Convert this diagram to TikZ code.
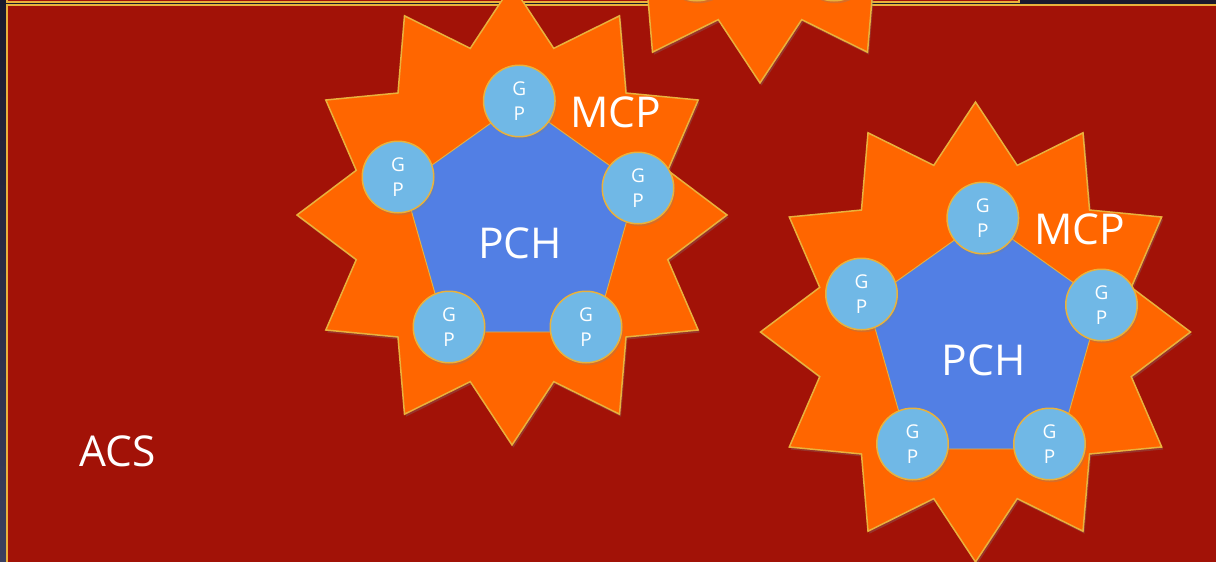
\documentclass[tikz,border=0pt]{standalone}
\usepackage{fontspec}
\setmainfont{Open Sans}
\usetikzlibrary{shadows}

\definecolor{bgdark}{HTML}{1B1A2E}
\definecolor{bgdarklow}{HTML}{3B4060}
\definecolor{acsred}{HTML}{A21207}
\definecolor{goldline}{HTML}{E9B23C}
\definecolor{starorange}{HTML}{FF6600}
\definecolor{pchblue}{HTML}{527FE4}
\definecolor{gpblue}{HTML}{70B8E6}

\newcommand\bigtextfont{\fontsize{42.5}{50}\selectfont}
\newcommand\gptextfont{\fontsize{19}{24.4}\selectfont}

\tikzset{
  acsbox/.style={fill=acsred, draw=goldline, line width=1.8pt},
  softshadow/.style={drop shadow={opacity=0.3, shadow xshift=1.5pt, shadow yshift=-2.5pt}},
  starshape/.style={fill=starorange, draw=goldline, line width=1.5pt, line join=miter, softshadow},
  pentshape/.style={fill=pchblue, draw=goldline, line width=0.9pt, line join=miter},
  gpnode/.style={circle, fill=gpblue, draw=goldline, line width=1.5pt,
    minimum size=71.5pt, inner sep=0pt, text=white, font=\gptextfont,
    align=center, softshadow},
  biglabel/.style={text=white, font=\bigtextfont, inner sep=0pt},
}

% switch for writing the texts of a cluster
\newif\ifclustertexts

% One MCP cluster: a 12-point star holding a PCH pentagon with five GP nodes.
% #1,#2: centre of the star; #3: prefix for node names.
\newcommand\mcpcluster[3]{%
  \begin{scope}[shift={(#1,#2)}]
    \draw[starshape, xscale=0.9348] (-90:230)
      \foreach \k [evaluate=\k as \r using {ifthenelse(mod(\k,2)==0,230,172.5)}] in {1,...,23}
        { -- ({-90+\k*15}:\r) } -- cycle;
    \draw[pentshape] (8.5,-113) -- (125,-30) -- (83,117) -- (-66,117) -- (-108,-30) -- cycle;
    \ifclustertexts
      \node[biglabel] (#3-pch) at (8,28) {PCH};
      \node[biglabel] (#3-mcp) at (104,-103) {MCP};
      \def\gptext{G\\P}%
    \else
      \def\gptext{}%
    \fi
    \node[gpnode] (#3-gp1) at (7.3,-114) {\gptext};
    \node[gpnode] (#3-gp2) at (126,-27) {\gptext};
    \node[gpnode] (#3-gp3) at (74,112) {\gptext};
    \node[gpnode] (#3-gp4) at (-63,112) {\gptext};
    \node[gpnode] (#3-gp5) at (-114,-38) {\gptext};
  \end{scope}%
}

\begin{document}
\begin{tikzpicture}[x=1pt, y=-1pt]
  \useasboundingbox (0,0) rectangle (1216,562);
  \clip (0,0) rectangle (1216,562);

  % backdrop
  \shade[top color=bgdark, bottom color=bgdarklow] (0,0) rectangle (1216,562);

  % ACS areas
  \draw[acsbox] (7,-200) rectangle (1019,2);
  \draw[acsbox] (7,4.8) rectangle (1240,600);
  \node[biglabel] (acs) at (118,451) {ACS};

  % MCP clusters
  \clustertextsfalse
  \mcpcluster{760}{-147}{top}
  \clustertextstrue
  \mcpcluster{512}{215}{left}
  \mcpcluster{975.5}{332}{right}
\end{tikzpicture}
\end{document}
